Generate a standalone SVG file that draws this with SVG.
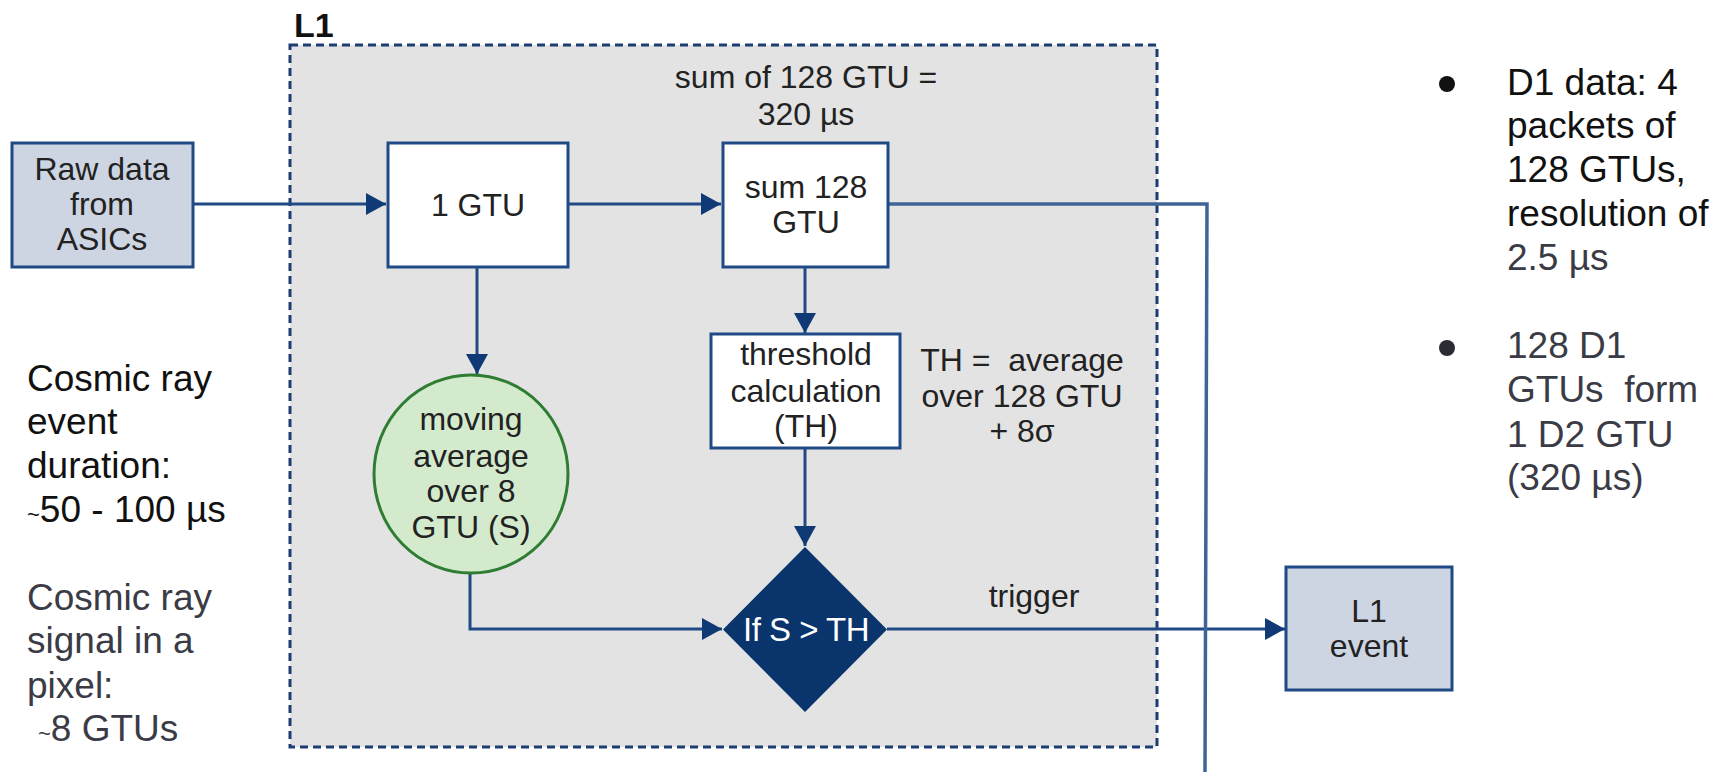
<svg xmlns="http://www.w3.org/2000/svg" width="1721" height="772" viewBox="0 0 1721 772">
<style>
.t{font-family:"Liberation Sans",Arial,Helvetica,sans-serif;font-size:32px;fill:#222;text-anchor:middle}
.side{font-family:"Liberation Sans",Arial,Helvetica,sans-serif;font-size:37px}
.blk{fill:#111}
.gry{fill:#3a3b45}
.box{fill:#fff;stroke:#1f4a85;stroke-width:3}
.ext{fill:#cdd5e3;stroke:#1f4a85;stroke-width:3}
.ln{fill:none;stroke:#1f4a85;stroke-width:3}
</style>
<defs>
<marker id="ah" markerUnits="userSpaceOnUse" markerWidth="20" markerHeight="22" refX="20" refY="11" orient="auto">
<path d="M0,0 L20,11 L0,22 z" fill="#0f3a75"/>
</marker>
</defs>
<rect width="1721" height="772" fill="#fff"/>

<g id="L1-container">
<rect x="290" y="45" width="867" height="702" fill="#e3e3e3" stroke="#1c3d72" stroke-width="3" stroke-dasharray="8 5"/>
<text x="294" y="37" style="font-family:'Liberation Sans',Arial,sans-serif;font-size:34px;font-weight:bold;fill:#111">L1</text>
</g>

<g id="connectors">
<path class="ln" d="M193,204 L386,204" marker-end="url(#ah)"/>
<path class="ln" d="M568,204 L721,204" marker-end="url(#ah)"/>
<path class="ln" d="M477,267 L477,374" marker-end="url(#ah)"/>
<path class="ln" d="M805,267 L805,333" marker-end="url(#ah)"/>
<path class="ln" d="M805,448 L805,546" marker-end="url(#ah)"/>
<path class="ln" d="M470,572 L470,629 L722,629" marker-end="url(#ah)"/>
<path class="ln" d="M887,629 L1285,629" marker-end="url(#ah)"/>
<path d="M888,204 L1207,204 L1205,772" fill="none" stroke="#3f6597" stroke-width="3.5"/>
</g>

<g id="raw-data">
<rect class="ext" x="12" y="143" width="181" height="124"/>
<text class="t" x="102" y="180">Raw data</text>
<text class="t" x="102" y="215">from</text>
<text class="t" x="102" y="250">ASICs</text>
</g>

<g id="gtu1">
<rect class="box" x="388" y="143" width="180" height="124"/>
<text class="t" x="478" y="216">1 GTU</text>
</g>

<g id="sum128">
<rect class="box" x="723" y="143" width="165" height="124"/>
<text class="t" x="806" y="198">sum 128</text>
<text class="t" x="806" y="233">GTU</text>
</g>

<g id="sum-note">
<text class="t" x="806" y="88">sum of 128 GTU =</text>
<text class="t" x="806" y="125">320 µs</text>
</g>

<g id="moving-average">
<ellipse cx="471" cy="474" rx="97" ry="99" fill="#d4eacd" stroke="#2e7d32" stroke-width="3"/>
<text class="t" x="471" y="430">moving</text>
<text class="t" x="471" y="467">average</text>
<text class="t" x="471" y="502">over 8</text>
<text class="t" x="471" y="538">GTU (S)</text>
</g>

<g id="threshold">
<rect class="box" x="711" y="334" width="189" height="114"/>
<text class="t" x="806" y="365">threshold</text>
<text class="t" x="806" y="402">calculation</text>
<text class="t" x="806" y="437">(TH)</text>
</g>

<g id="th-note">
<text class="t" x="1022" y="371" xml:space="preserve">TH =  average</text>
<text class="t" x="1022" y="407">over 128 GTU</text>
<text class="t" x="1022" y="442">+ 8σ</text>
</g>

<g id="decision">
<path d="M805,547 L887,629.5 L805,712 L723,629.5 z" fill="#0a346c"/>
<text class="t" x="806" y="641" style="fill:#fff;font-size:33px;letter-spacing:-0.5px">If S &gt; TH</text>
</g>

<g id="trigger-label">
<text class="t" x="1034" y="607">trigger</text>
</g>

<g id="l1-event">
<rect class="ext" x="1286" y="567" width="166" height="123"/>
<text class="t" x="1369" y="622">L1</text>
<text class="t" x="1369" y="657">event</text>
</g>

<g id="left-notes" class="side">
<text x="27" y="391" class="blk">Cosmic ray</text>
<text x="27" y="434" class="blk">event</text>
<text x="27" y="478" class="blk">duration:</text>
<text x="27" y="522" class="blk"><tspan font-size="22px">~</tspan>50 - 100 µs</text>
<text x="27" y="610" class="gry">Cosmic ray</text>
<text x="27" y="653" class="gry">signal in a</text>
<text x="27" y="698" class="gry">pixel:</text>
<text x="38" y="741" class="gry"><tspan font-size="22px">~</tspan>8 GTUs</text>
</g>

<g id="right-notes" class="side">
<circle cx="1447" cy="84" r="8" fill="#111"/>
<text x="1507" y="95" class="blk">D1 data: 4</text>
<text x="1507" y="138" class="blk">packets of</text>
<text x="1507" y="182" class="blk">128 GTUs,</text>
<text x="1507" y="226" class="blk">resolution of</text>
<text x="1507" y="270" class="gry">2.5 µs</text>
<circle cx="1447" cy="348" r="8" fill="#2a2b35"/>
<text x="1507" y="358" class="gry">128 D1</text>
<text x="1507" y="402" class="gry" xml:space="preserve">GTUs  form</text>
<text x="1507" y="447" class="gry">1 D2 GTU</text>
<text x="1507" y="490" class="gry">(320 µs)</text>
</g>
</svg>
